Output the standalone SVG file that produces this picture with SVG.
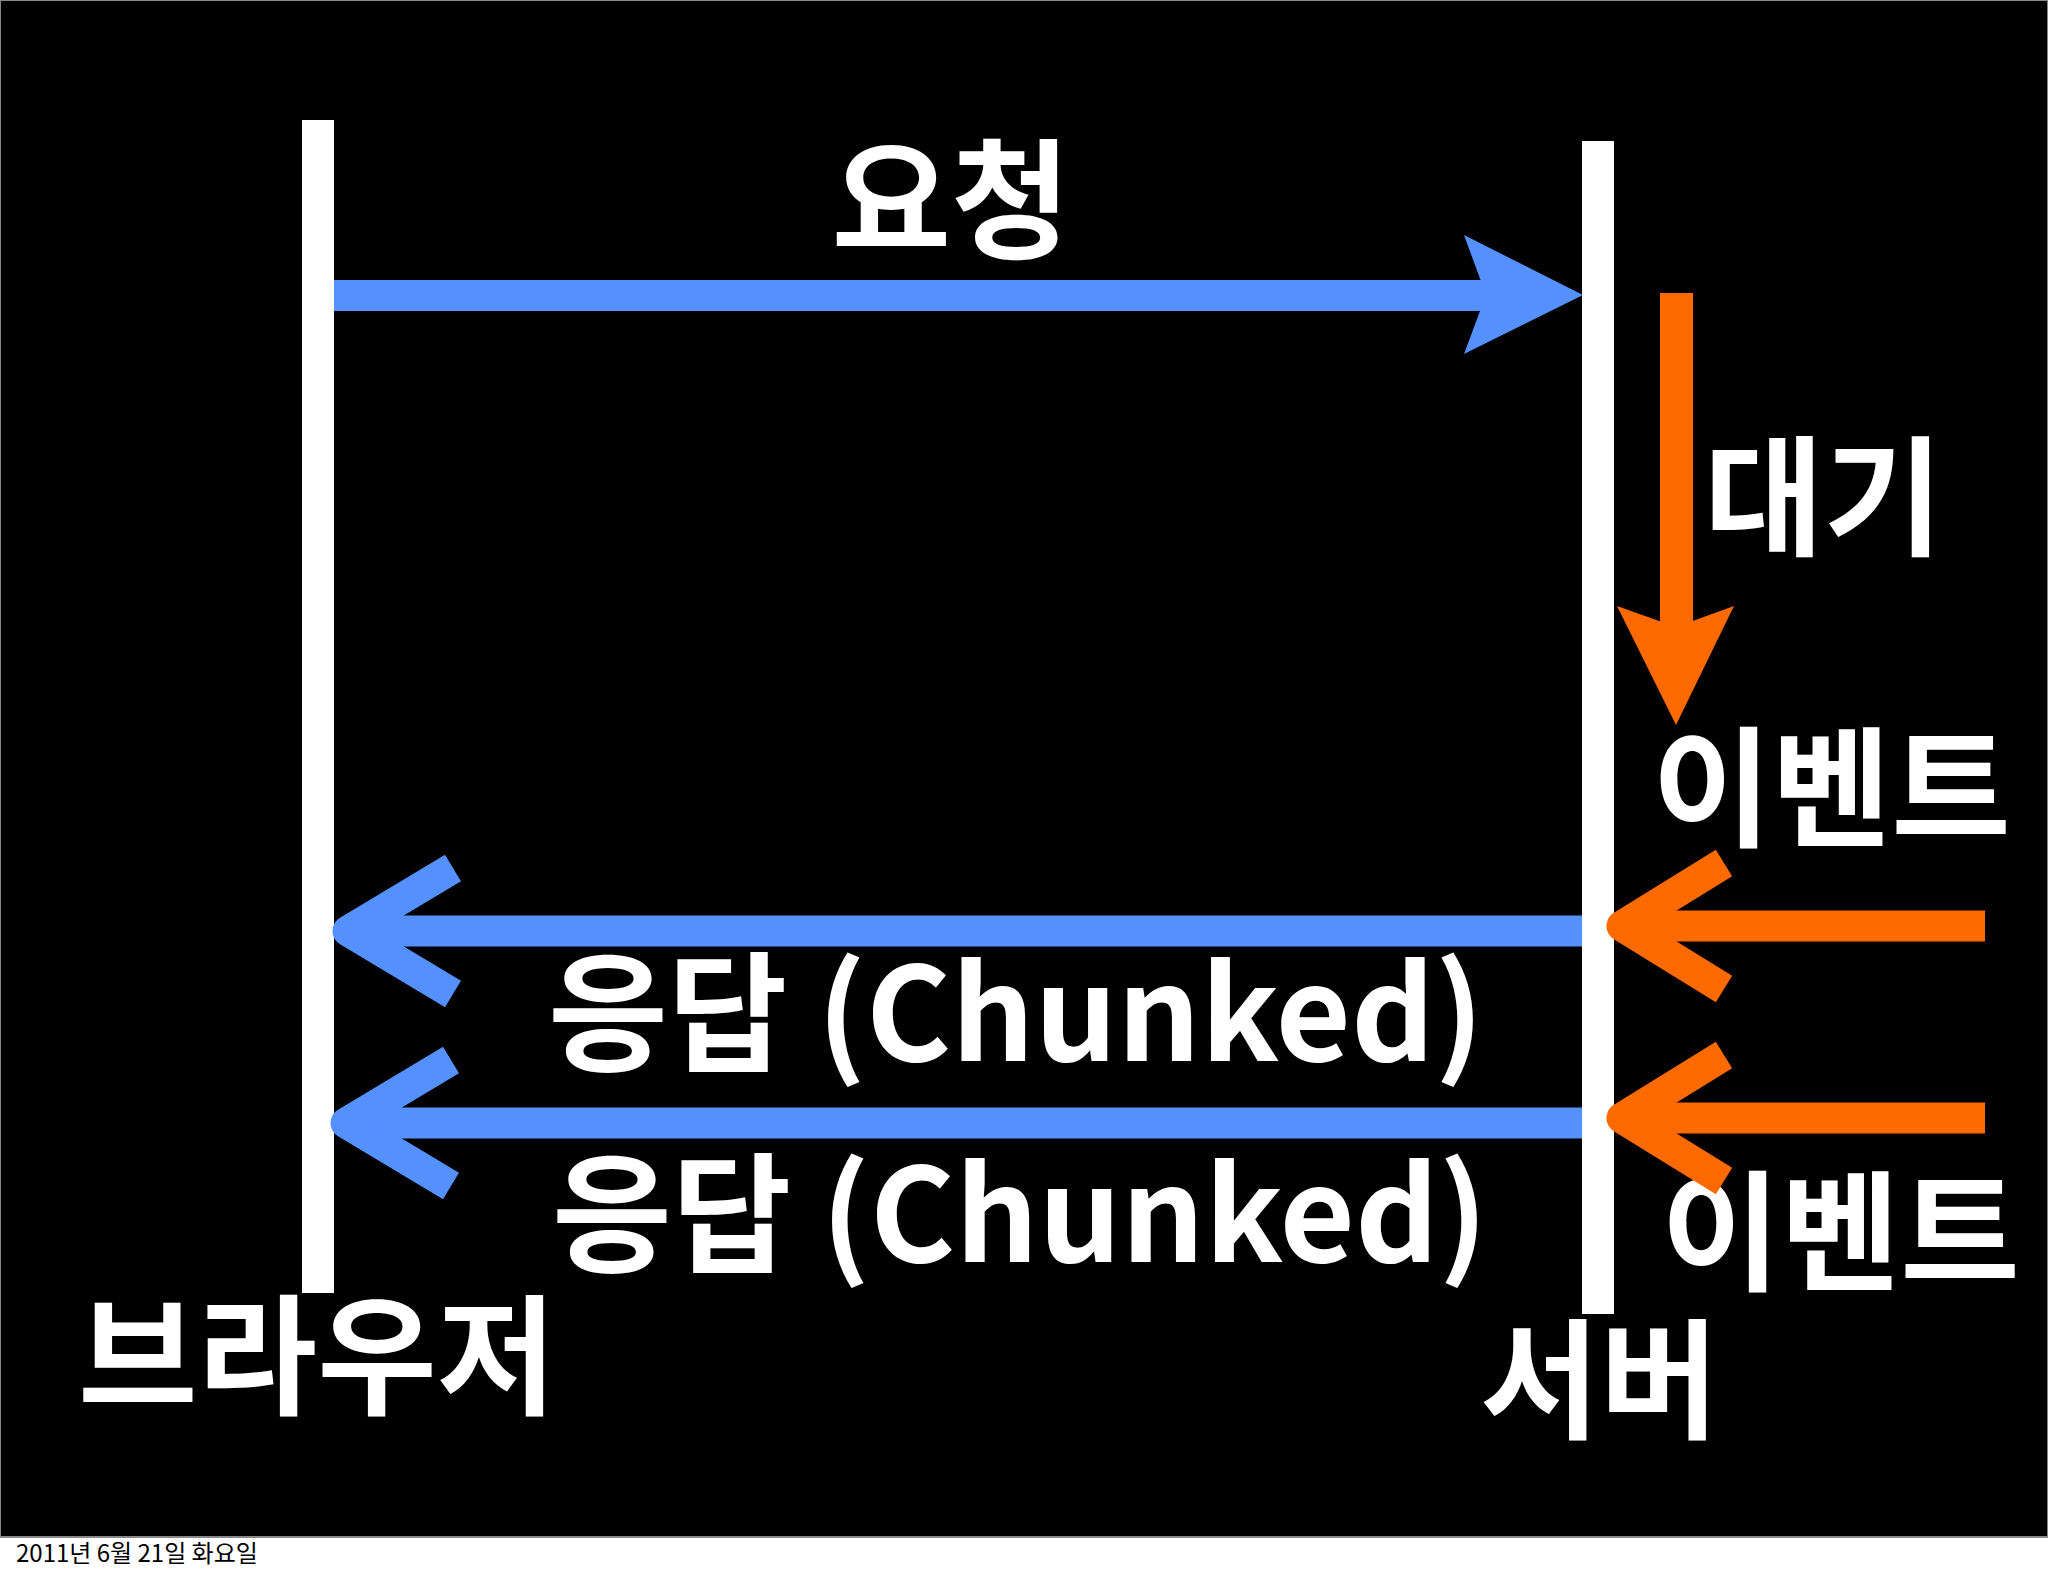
<svg xmlns="http://www.w3.org/2000/svg" width="2048" height="1576" viewBox="0 0 2048 1576">
<style>
.t{font-family:"Noto Sans CJK KR","Noto Sans",sans-serif;font-weight:bold;fill:#fff;font-size:130px}
.ob{fill:none;stroke:#ff6a00;stroke-width:31}
.bb{fill:none;stroke:#5590ff;stroke-width:31}
</style>
<rect width="2048" height="1576" fill="#fff"/>
<rect x="0" y="0" width="2048" height="1537" fill="#000" stroke="#888" stroke-width="2"/>
<g id="browser"><rect x="302" y="120" width="32" height="1173" fill="#fff"/><text class="t" x="78" y="1404">브라우저</text></g>
<g id="server"><rect x="1582" y="141" width="32" height="1173" fill="#fff"/><text class="t" x="1480" y="1428">서버</text></g>
<g id="labels">
<text class="t" x="951" y="248" text-anchor="middle">요청</text>
<text class="t" x="1704" y="545">대기</text>
<text class="t" x="1652" y="836">이벤트</text>
<text class="t" x="1661" y="1280">이벤트</text>
<text class="t" x="1016" y="1061" text-anchor="middle">응답 (Chunked)</text>
<text class="t" x="1020" y="1262" text-anchor="middle">응답 (Chunked)</text>
</g>
<g id="connectors">
<rect x="334" y="280" width="1152" height="31" fill="#5590ff"/>
<polygon points="1583,295 1464,235 1486,295 1464,354" fill="#5590ff"/>
<rect x="1660" y="293" width="33" height="335" fill="#ff6a00"/>
<polygon points="1676,725 1617,606 1676,627 1734,606" fill="#ff6a00"/>
<line class="ob" x1="1985" y1="926" x2="1640" y2="926"/>
<polyline class="ob" points="1724,863 1622,926 1724,989" stroke-linejoin="round"/>
<line class="ob" x1="1985" y1="1118" x2="1640" y2="1118"/>
<polyline class="ob" points="1724,1055 1622,1118 1724,1181" stroke-linejoin="round"/>
<line class="bb" x1="1582" y1="931" x2="370" y2="931"/>
<polyline class="bb" points="453,868 348,931 453,994" stroke-linejoin="round"/>
<line class="bb" x1="1582" y1="1123" x2="368" y2="1123"/>
<polyline class="bb" points="451,1060 346,1123 451,1186" stroke-linejoin="round"/>
</g>
<text x="16" y="1562" font-family="Noto Sans CJK KR,sans-serif" font-size="24" fill="#000">2011년 6월 21일 화요일</text>
</svg>
